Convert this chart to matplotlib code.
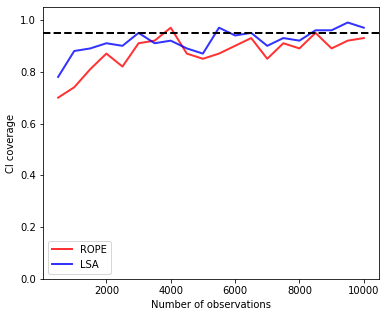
import matplotlib
matplotlib.use("Agg")
from matplotlib import pyplot as plt
import numpy as np

# number of observations
n_obs = np.arange(500, 10001, 500)

# CI coverage per method
rope = [0.70, 0.74, 0.81, 0.87, 0.82, 0.91, 0.92, 0.97, 0.87, 0.85,
        0.87, 0.90, 0.93, 0.85, 0.91, 0.89, 0.95, 0.89, 0.92, 0.93]
lsa = [0.78, 0.88, 0.89, 0.91, 0.90, 0.95, 0.91, 0.92, 0.89, 0.87,
       0.97, 0.94, 0.95, 0.90, 0.93, 0.92, 0.96, 0.96, 0.99, 0.97]
target = 0.95

fig = plt.figure(figsize=(386 / 72, 317 / 72), dpi=72)
ax = fig.add_axes([0.111, 0.12, 0.871, 0.858])

ax.plot(n_obs, rope, color="red", alpha=0.8, lw=2, label="ROPE")
ax.plot(n_obs, lsa, color="blue", alpha=0.8, lw=2, label="LSA")
ax.axhline(target, color="black", ls="--", lw=2)

ax.set_ylim(0, 1.05)
ax.set_xlabel("Number of observations")
ax.set_ylabel("CI coverage")
ax.legend(loc="lower left")

fig.savefig("out.png", dpi=72)
